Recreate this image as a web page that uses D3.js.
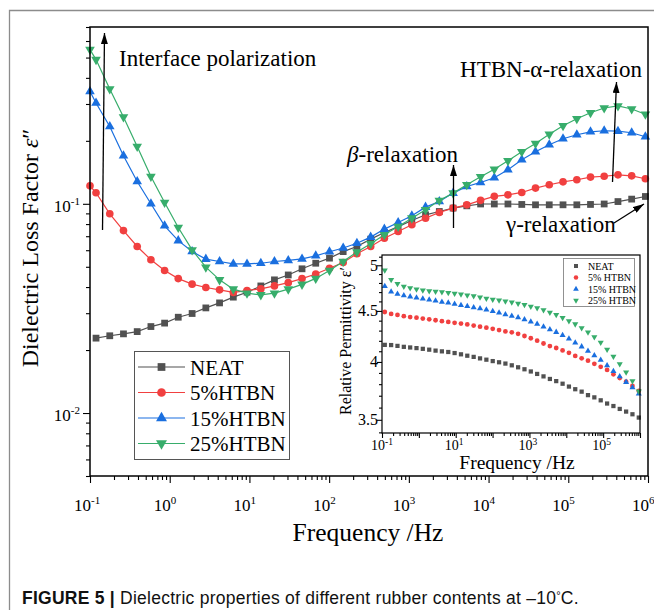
<!DOCTYPE html>
<html>
<head>
<meta charset="utf-8">
<script src="https://cdn.jsdelivr.net/npm/d3@7"></script>
<style>
  body { margin: 0; background: #fff; }
  svg { display: block; }
</style>
</head>
<body>
<svg width="654" height="610"></svg>
<script>
// frequencies (Hz); the first point (0.1 Hz) only exists for the HTBN blends in the loss plot
const freq = [0.1, 0.119, 0.177, 0.263, 0.391, 0.581, 0.863, 1.28, 1.91, 2.84, 4.22, 6.28, 9.33,
  13.9, 20.6, 30.7, 45.7, 67.9, 101, 150, 223, 332, 493, 734, 1090, 1620, 2410, 3590, 5330,
  7940, 11800, 17500, 26100, 38800, 57700, 85900, 128000, 190000, 282000, 420000, 624000, 927000];

// dielectric loss factor
const lossNeat = [null, 0.0228, 0.0234, 0.0239, 0.0245, 0.0259, 0.0269, 0.0287, 0.0299, 0.0318, 0.0336,
  0.0358, 0.0378, 0.0405, 0.0433, 0.0457, 0.0489, 0.0520, 0.0550, 0.0591, 0.0625, 0.0678, 0.0729,
  0.0778, 0.0832, 0.0886, 0.0919, 0.0954, 0.0978, 0.0998, 0.0998, 0.0998, 0.0993, 0.0989, 0.0989,
  0.0989, 0.0989, 0.0993, 0.0998, 0.1025, 0.1053, 0.1084];
const loss5 = [0.1219, 0.1129, 0.0896, 0.0745, 0.0625, 0.0540, 0.0480, 0.0439, 0.0413, 0.0398, 0.0388,
  0.0377, 0.0385, 0.0392, 0.0405, 0.0420, 0.0439, 0.0462, 0.0492, 0.0524, 0.0577, 0.0625, 0.0685,
  0.0737, 0.0794, 0.0854, 0.0909, 0.0954, 0.0989, 0.1039, 0.1086, 0.1104, 0.1133, 0.1189, 0.1233,
  0.1274, 0.1303, 0.1342, 0.1354, 0.1376, 0.1361, 0.1317];
const loss15 = [0.344, 0.303, 0.234, 0.1697, 0.1278, 0.100, 0.0785, 0.0667, 0.0591, 0.0544, 0.0530,
  0.0516, 0.0516, 0.0520, 0.0530, 0.0536, 0.0545, 0.0564, 0.0590, 0.0615, 0.0648, 0.0693, 0.0757,
  0.0814, 0.0876, 0.0964, 0.1026, 0.1125, 0.1210, 0.1265, 0.1332, 0.1454, 0.1624, 0.1774, 0.1916,
  0.2047, 0.2138, 0.2208, 0.2234, 0.2223, 0.2186, 0.2092];
const loss25 = [0.546, 0.489, 0.354, 0.260, 0.188, 0.1351, 0.1014, 0.0770, 0.0602, 0.0498, 0.0433,
  0.0391, 0.0374, 0.0367, 0.0374, 0.0391, 0.0412, 0.0440, 0.0480, 0.0530, 0.0589, 0.0644, 0.0711,
  0.0779, 0.0854, 0.0936, 0.1037, 0.1125, 0.1233, 0.1346, 0.1463, 0.1606, 0.1774, 0.1941, 0.2150,
  0.2362, 0.2551, 0.2725, 0.2871, 0.2935, 0.2838, 0.2681];

// relative permittivity (inset), one value per freq[1..]
const permNeat = [4.161, 4.159, 4.151, 4.142, 4.136, 4.130, 4.123, 4.115, 4.106, 4.099, 4.093, 4.083,
  4.071, 4.058, 4.047, 4.033, 4.021, 4.008, 3.997, 3.985, 3.969, 3.951, 3.933, 3.913, 3.891, 3.869,
  3.846, 3.827, 3.804, 3.779, 3.756, 3.735, 3.705, 3.686, 3.661, 3.634, 3.613, 3.589, 3.567, 3.545, 3.518];
const perm5 = [4.489, 4.469, 4.459, 4.446, 4.437, 4.430, 4.421, 4.414, 4.404, 4.395, 4.387, 4.378,
  4.370, 4.362, 4.350, 4.339, 4.329, 4.318, 4.305, 4.292, 4.283, 4.268, 4.247, 4.225, 4.201, 4.174,
  4.149, 4.131, 4.108, 4.085, 4.056, 4.034, 4.012, 3.983, 3.955, 3.927, 3.887, 3.854, 3.822, 3.784, 3.741];
const perm15 = [4.764, 4.704, 4.679, 4.663, 4.651, 4.638, 4.627, 4.618, 4.607, 4.594, 4.586, 4.573,
  4.560, 4.549, 4.536, 4.524, 4.511, 4.497, 4.481, 4.464, 4.447, 4.432, 4.412, 4.390, 4.365, 4.338,
  4.312, 4.285, 4.254, 4.219, 4.181, 4.144, 4.102, 4.060, 4.018, 3.968, 3.916, 3.867, 3.818, 3.770, 3.716];
const perm25 = [4.943, 4.836, 4.790, 4.762, 4.744, 4.730, 4.719, 4.711, 4.706, 4.701, 4.693, 4.685,
  4.677, 4.667, 4.657, 4.645, 4.631, 4.619, 4.613, 4.602, 4.590, 4.578, 4.565, 4.547, 4.531, 4.510,
  4.484, 4.461, 4.429, 4.396, 4.365, 4.325, 4.283, 4.237, 4.184, 4.117, 4.051, 3.981, 3.907, 3.827, 3.738];

const seriesNames = ["NEAT", "5%HTBN", "15%HTBN", "25%HTBN"];
const insetNames = ["NEAT", "5% HTBN", "15% HTBN", "25% HTBN"];
const insetYTicks = [3.5, 4, 4.5, 5];
const insetXLabels = [0.1, 10, 1000, 100000];

const colors = ["#515151", "#F14040", "#1A6FDF", "#37AD6B"];
const serif = "'Liberation Serif', 'Times New Roman', serif";
const sans = "'Liberation Sans', Arial, sans-serif";

const svg = d3.select("svg");

// page frame (left + top rule of the figure box)
svg.append("path")
  .attr("d", "M9.5,610 V10.5 H654")
  .attr("fill", "none").attr("stroke", "#8c8c8c").attr("stroke-width", 1.3);

// marker shapes
const shapes = [d3.symbolSquare, d3.symbolCircle, d3.symbolTriangle, d3.symbolTriangle];
const rot = [0, 0, 0, 180];
function marker(sel, i, size) {
  sel.append("path")
    .attr("d", d3.symbol().type(shapes[i]).size(size)())
    .attr("transform", d => `translate(${d[0]},${d[1]}) rotate(${rot[i]})`)
    .attr("fill", colors[i]);
}

const isMajor = v => Math.abs(Math.log10(v) - Math.round(Math.log10(v))) < 1e-9;

function supText(t, exp, small, dy) {
  t.append("tspan").text("10");
  t.append("tspan").attr("dy", dy).attr("font-size", small).text(exp);
}

/* ---------------- main plot ---------------- */
const x = d3.scaleLog().domain([0.1, 1e6]).range([90, 648]);
const y = d3.scaleLog().domain([0.005, 0.7]).range([476, 27]);

const xTicks = x.ticks();
const yTicks = y.ticks();

function drawTicks(g) { g.select(".domain").remove(); g.selectAll("line").attr("stroke", "#000").attr("stroke-width", 1.1); }

svg.append("g").attr("transform", "translate(0,476)")
  .call(d3.axisBottom(x).tickValues(xTicks.filter(v => !isMajor(v))).tickSize(4).tickFormat(""))
  .call(drawTicks);
svg.append("g").attr("transform", "translate(0,476)")
  .call(d3.axisBottom(x).tickValues(xTicks.filter(isMajor)).tickSize(7).tickFormat(""))
  .call(drawTicks);
svg.append("g").attr("transform", "translate(90,0)")
  .call(d3.axisLeft(y).tickValues(yTicks.filter(v => !isMajor(v))).tickSize(4).tickFormat(""))
  .call(drawTicks);
svg.append("g").attr("transform", "translate(90,0)")
  .call(d3.axisLeft(y).tickValues(yTicks.filter(isMajor)).tickSize(7).tickFormat(""))
  .call(drawTicks);

// tick labels: "10" ends at the tick, exponent sits to its right
svg.append("g").selectAll("text")
  .data(xTicks.filter(isMajor)).join("text")
  .attr("x", d => x(d) - 16).attr("y", 511)
  .attr("font-family", serif).attr("font-size", 17)
  .each(function (d) { supText(d3.select(this), Math.round(Math.log10(d)), 11, -7); });
svg.append("g").selectAll("text")
  .data(yTicks.filter(isMajor)).join("text")
  .attr("x", 80).attr("y", d => y(d) + 8)
  .attr("text-anchor", "end")
  .attr("font-family", serif).attr("font-size", 17)
  .each(function (d) { supText(d3.select(this), Math.round(Math.log10(d)), 11, -7); });

// axis titles
svg.append("text")
  .attr("x", 368).attr("y", 541).attr("text-anchor", "middle")
  .attr("font-family", serif).attr("font-size", 25.5)
  .text("Frequency /Hz");
const yt = svg.append("text")
  .attr("transform", "translate(38,248) rotate(-90)")
  .attr("text-anchor", "middle")
  .attr("font-family", serif).attr("font-size", 24);
yt.append("tspan").text("Dielectric Loss Factor ");
yt.append("tspan").attr("font-style", "italic").text("ε");
yt.append("tspan").text("″");

// curves
const lossSeries = [lossNeat, loss5, loss15, loss25];
const line = d3.line().defined(d => d[1] != null).x(d => x(d[0])).y(d => y(d[1]));
lossSeries.forEach((vals, i) => {
  const pts = freq.map((f, k) => [f, vals[k]]);
  svg.append("path").attr("d", line(pts))
    .attr("fill", "none").attr("stroke", colors[i]).attr("stroke-width", 1.2);
  svg.append("g").selectAll("g")
    .data(pts.filter(d => d[1] != null).map(d => [x(d[0]), y(d[1])]))
    .join("g").call(sel => marker(sel, i, i < 2 ? 46 : 40));
});

// plot frame
svg.append("rect")
  .attr("x", 90).attr("y", 27).attr("width", 558).attr("height", 449)
  .attr("fill", "none").attr("stroke", "#000").attr("stroke-width", 1.5);

// legend
const lg = svg.append("g");
lg.append("rect").attr("x", 134.5).attr("y", 351.5).attr("width", 155).attr("height", 108)
  .attr("fill", "#fff").attr("stroke", "#555").attr("stroke-width", 1);
seriesNames.forEach((name, i) => {
  const cy = 367 + i * 25.5;
  lg.append("line").attr("x1", 138).attr("x2", 185).attr("y1", cy).attr("y2", cy)
    .attr("stroke", colors[i]).attr("stroke-width", 1.2);
  lg.append("g").datum([161.5, cy]).call(sel => marker(sel, i, i < 2 ? 60 : 52));
  lg.append("text").attr("x", 190).attr("y", cy + 7.5)
    .attr("font-family", serif).attr("font-size", 21).text(name);
});

// annotations
const defs = svg.append("defs");
defs.append("marker").attr("id", "arrow")
  .attr("viewBox", "0 0 11 7").attr("refX", 11).attr("refY", 3.5)
  .attr("markerWidth", 11).attr("markerHeight", 7)
  .attr("markerUnits", "userSpaceOnUse").attr("orient", "auto")
  .append("path").attr("d", "M0,0 L11,3.5 L0,7 Z").attr("fill", "#000");

const arrows = [
  [102.5, 230, 104.5, 33],
  [453.5, 228, 453.5, 165],
  [612.5, 182, 616.5, 82],
  [614, 223, 644, 204]
];
arrows.forEach(a => {
  svg.append("line").attr("x1", a[0]).attr("y1", a[1]).attr("x2", a[2]).attr("y2", a[3])
    .attr("stroke", "#000").attr("stroke-width", 1.3).attr("marker-end", "url(#arrow)");
});

function note(xp, yp, anchor) {
  return svg.append("text").attr("x", xp).attr("y", yp).attr("text-anchor", anchor)
    .attr("font-family", serif).attr("font-size", 23);
}
note(119, 66, "start").text("Interface polarization");
note(642, 77, "end").text("HTBN-α-relaxation");
const beta = note(347, 162, "start");
beta.append("tspan").attr("font-style", "italic").text("β");
beta.append("tspan").text("-relaxation");
note(506, 232, "start").text("γ-relaxation");

/* ---------------- inset ---------------- */
const xi = d3.scaleLog().domain([0.1, 1e6]).range([382, 640]);
const yi = d3.scaleLog().domain([3.395, 5.12]).range([433, 255]);

const ins = svg.append("g");
const xiTicks = xi.ticks();
const yiMinor = d3.range(3.4, 5.15, 0.1).filter(v => !insetYTicks.some(t => Math.abs(t - v) < 1e-6));

ins.append("g").attr("transform", "translate(0,433)")
  .call(d3.axisBottom(xi).tickValues(xiTicks.filter(v => !isMajor(v))).tickSize(3).tickFormat(""))
  .call(drawTicks);
ins.append("g").attr("transform", "translate(0,433)")
  .call(d3.axisBottom(xi).tickValues(xiTicks.filter(isMajor)).tickSize(5).tickFormat(""))
  .call(drawTicks);
ins.append("g").attr("transform", "translate(382,0)")
  .call(d3.axisLeft(yi).tickValues(yiMinor).tickSize(3).tickFormat(""))
  .call(drawTicks);
ins.append("g").attr("transform", "translate(382,0)")
  .call(d3.axisLeft(yi).tickValues(insetYTicks).tickSize(5).tickFormat(""))
  .call(drawTicks);

ins.append("g").selectAll("text")
  .data(insetXLabels).join("text")
  .attr("x", d => xi(d) - 11).attr("y", 450)
  .attr("font-family", serif).attr("font-size", 14)
  .each(function (d) { supText(d3.select(this), Math.round(Math.log10(d)), 9.5, -5.5); });
ins.append("g").selectAll("text")
  .data(insetYTicks).join("text")
  .attr("x", 378).attr("y", d => yi(d) + 5.5)
  .attr("text-anchor", "end")
  .attr("font-family", serif).attr("font-size", 16)
  .text(d => d);

ins.append("text")
  .attr("x", 517).attr("y", 469).attr("text-anchor", "middle")
  .attr("font-family", serif).attr("font-size", 19.5)
  .text("Frequency /Hz");
ins.append("text")
  .attr("transform", "translate(351,341) rotate(-90)")
  .attr("text-anchor", "middle")
  .attr("font-family", serif).attr("font-size", 16)
  .text("Relative Permittivity ε′");

const permSeries = [permNeat, perm5, perm15, perm25];
const permFreq = freq.slice(1);
permSeries.forEach((vals, i) => {
  ins.append("g").selectAll("g")
    .data(permFreq.map((f, k) => [xi(f), yi(vals[k])]))
    .join("g").call(sel => marker(sel, i, i < 2 ? 18 : 16));
});

ins.append("rect")
  .attr("x", 382).attr("y", 255).attr("width", 258).attr("height", 178)
  .attr("fill", "none").attr("stroke", "#000").attr("stroke-width", 1.2);

// inset legend
ins.append("rect").attr("x", 563.5).attr("y", 258.5).attr("width", 71).attr("height", 48)
  .attr("fill", "#fff").attr("stroke", "#777").attr("stroke-width", 0.8);
insetNames.forEach((name, i) => {
  const cy = 266 + i * 11.5;
  ins.append("g").datum([576, cy]).call(sel => marker(sel, i, i < 2 ? 16 : 14));
  ins.append("text").attr("x", 588).attr("y", cy + 3.5)
    .attr("font-family", serif).attr("font-size", 10).text(name);
});

/* ---------------- caption ---------------- */
const cap = svg.append("text").attr("x", 22).attr("y", 604)
  .attr("font-family", sans).attr("font-size", 17.5).attr("letter-spacing", 0.25)
  .attr("fill", "#111");
cap.append("tspan").attr("font-weight", "bold").text("FIGURE 5 | ");
cap.append("tspan").text("Dielectric properties of different rubber contents at \u201310");
cap.append("tspan").attr("dy", -5).attr("font-size", 11).text("°");
cap.append("tspan").attr("dy", 5).text("C.");
</script>
</body>
</html>
